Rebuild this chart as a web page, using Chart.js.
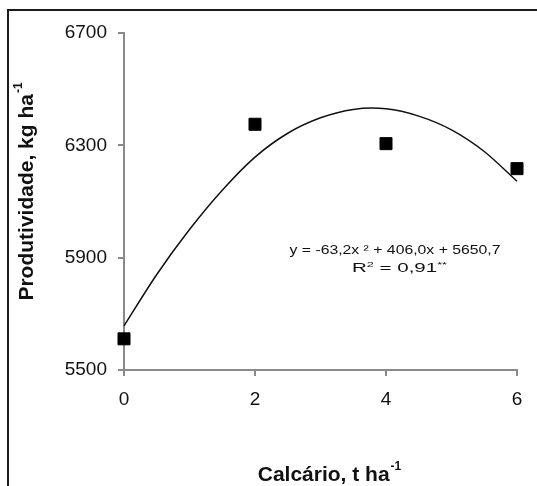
<!DOCTYPE html>
<html>
<head>
<meta charset="utf-8">
<script src="https://cdn.jsdelivr.net/npm/chart.js@4/dist/chart.umd.min.js"></script>
<style>
  html, body { margin: 0; padding: 0; background: #fff; }
  #wrap { width: 537px; height: 486px; }
</style>
</head>
<body>
<div id="wrap"><canvas id="grafico" width="537" height="486"></canvas></div>
<script>
// Dados observados (t ha-1 de calcário x produtividade kg ha-1)
const calcario = [0, 2, 4, 6];
const produtividade = [5611, 6375, 6306, 6217];

// Curva ajustada
const curvaX = [0, 0.5, 1, 1.5, 2, 2.5, 3, 3.5, 4, 4.5, 5, 5.5, 6];
const curvaY = [5657, 5840, 6000, 6140, 6258, 6343, 6398, 6428, 6430, 6404, 6355, 6278, 6172];

const ticksY = [5500, 5900, 6300, 6700];
const ticksX = [0, 2, 4, 6];

const equacao = 'y = -63,2x ² + 406,0x + 5650,7';

const fonte = '"Liberation Sans", Arial, sans-serif';
const corEixo = '#8a8a8a';

// Títulos, moldura e equação
const extras = {
    id: 'extras',
    afterDraw(chart) {
        const ctx = chart.ctx;
        ctx.save();

        // moldura (só esquerda e topo aparecem)
        ctx.strokeStyle = '#1a1a1a';
        ctx.lineWidth = 2;
        ctx.beginPath();
        ctx.moveTo(8, 486);
        ctx.lineTo(8, 10);
        ctx.lineTo(537, 10);
        ctx.stroke();

        ctx.fillStyle = '#111';

        // título eixo X
        ctx.font = 'bold 21px ' + fonte;
        ctx.textBaseline = 'alphabetic';
        ctx.textAlign = 'left';
        const tx = 'Calcário, t ha';
        const wx = ctx.measureText(tx).width;
        ctx.font = 'bold 12px ' + fonte;
        const wsx = ctx.measureText('-1').width;
        let x0 = 329 - (wx + wsx) / 2;
        ctx.font = 'bold 21px ' + fonte;
        ctx.fillText(tx, x0, 481);
        ctx.font = 'bold 12px ' + fonte;
        ctx.fillText('-1', x0 + wx + 1, 470);

        // título eixo Y
        ctx.save();
        ctx.translate(33, 192);
        ctx.rotate(-Math.PI / 2);
        ctx.font = 'bold 21px ' + fonte;
        const ty = 'Produtividade, kg ha';
        const wy = ctx.measureText(ty).width;
        ctx.font = 'bold 12px ' + fonte;
        const wsy = ctx.measureText('-1').width;
        let y0 = -(wy + wsy) / 2;
        ctx.font = 'bold 21px ' + fonte;
        ctx.fillText(ty, y0, 0);
        ctx.font = 'bold 12px ' + fonte;
        ctx.fillText('-1', y0 + wy + 1, -11);
        ctx.restore();

        // equação
        ctx.font = '13px ' + fonte;
        ctx.textAlign = 'center';
        const we = ctx.measureText(equacao).width;
        ctx.save();
        ctx.translate(395, 254);
        ctx.scale(211 / we, 1);
        ctx.fillText(equacao, 0, 0);
        ctx.restore();

        // R²
        ctx.textAlign = 'left';
        const partes = [['R', 13, 0], ['2', 8, -5], [' = 0,91', 13, 0], ['**', 8, -5]];
        let total = 0;
        partes.forEach(p => { ctx.font = p[1] + 'px ' + fonte; total += ctx.measureText(p[0]).width; });
        const esc = 95 / total;
        ctx.save();
        ctx.translate(352, 272);
        ctx.scale(esc, 1);
        let cx = 0;
        partes.forEach(p => {
            ctx.font = p[1] + 'px ' + fonte;
            ctx.fillText(p[0], cx, p[2]);
            cx += ctx.measureText(p[0]).width;
        });
        ctx.restore();

        ctx.restore();
    }
};

const ctx = document.getElementById('grafico').getContext('2d');

new Chart(ctx, {
    type: 'scatter',
    data: {
        datasets: [
            {
                label: 'Observado',
                data: calcario.map((x, i) => ({ x: x, y: produtividade[i] })),
                pointStyle: 'rect',
                pointRadius: 8.5,
                pointHoverRadius: 8.5,
                backgroundColor: '#000',
                borderColor: '#000',
                borderWidth: 1,
                clip: false,
                order: 1
            },
            {
                label: 'Ajuste',
                type: 'line',
                data: curvaX.map((x, i) => ({ x: x, y: curvaY[i] })),
                showLine: true,
                tension: 0.3,
                pointRadius: 0,
                borderColor: '#111',
                borderWidth: 1.5,
                fill: false,
                clip: false,
                order: 2
            }
        ]
    },
    options: {
        responsive: false,
        animation: false,
        events: [],
        layout: { padding: { top: 33, right: 20, left: 0, bottom: 0 } },
        plugins: {
            legend: { display: false },
            tooltip: { enabled: false }
        },
        scales: {
            x: {
                type: 'linear',
                min: 0,
                max: 6,
                afterBuildTicks: s => { s.ticks = ticksX.map(v => ({ value: v })); },
                afterFit: s => { s.height = 116; },
                grid: { drawOnChartArea: false, color: corEixo, lineWidth: 2, tickLength: 6 },
                border: { color: corEixo, width: 2 },
                ticks: { color: '#111', font: { family: fonte, size: 19 }, padding: 12, maxRotation: 0,
                         callback: v => String(v) }
            },
            y: {
                min: 5500,
                max: 6700,
                afterBuildTicks: s => { s.ticks = ticksY.map(v => ({ value: v })); },
                afterFit: s => { s.width = 124; },
                grid: { drawOnChartArea: false, color: corEixo, lineWidth: 2, tickLength: 6 },
                border: { color: corEixo, width: 2 },
                ticks: { color: '#111', font: { family: fonte, size: 19 }, padding: 11,
                         callback: v => String(v) }
            }
        }
    },
    plugins: [extras]
});
</script>
</body>
</html>
